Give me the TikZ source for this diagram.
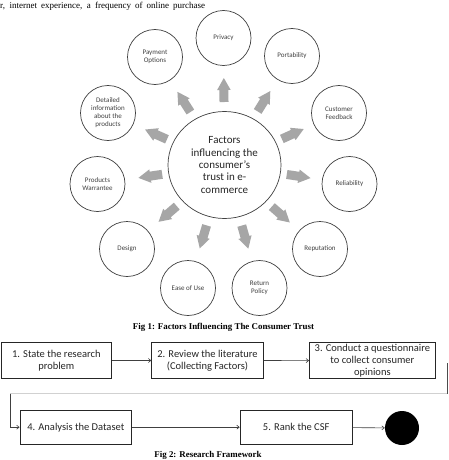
\documentclass[tikz,border=0pt]{standalone}
\usepackage{fontspec}
\setmainfont{Carlito}
\newfontfamily\timesf{Liberation Serif}
\usetikzlibrary{calc,shapes.geometric,arrows.meta}
\definecolor{arrowgray}{HTML}{A6A6A6}
\definecolor{ringline}{HTML}{404040}
\newcommand\blockarr[1]{%
  \path ($(ctr.center)!63pt!(#1.center)$) coordinate (abase)
        ($(ctr.center)!75pt!(#1.center)$) coordinate (aneck)
        ($(ctr.center)!87pt!(#1.center)$) coordinate (atip);
  \fill[arrowgray] ($(abase)!4.5pt!90:(atip)$) -- ($(aneck)!4.5pt!90:(atip)$)
     -- ($(aneck)!6.8pt!90:(atip)$) -- (atip) -- ($(aneck)!6.8pt!-90:(atip)$)
     -- ($(aneck)!4.5pt!-90:(atip)$) -- ($(abase)!4.5pt!-90:(atip)$) -- cycle;}
\begin{document}
\begin{tikzpicture}[x=1pt,y=-1pt,
  fcircle/.style={circle, draw=ringline, line width=0.7pt, minimum size=55pt,
    inner sep=0pt, align=center, font=\fontsize{7}{8}\selectfont, text=black!75},
  centre/.style={ellipse, draw=ringline, line width=0.7pt, minimum width=113pt,
    minimum height=107pt, inner sep=0pt, align=center,
    font=\fontsize{11}{12.4}\selectfont, text=black!85},
  stepbox/.style={draw=black!85, line width=0.7pt, inner sep=0pt, align=center,
    font=\fontsize{10.5}{12.4}\selectfont, text=black!85},
  flowarrow/.style={draw=black!75, line width=0.6pt,
    -{Straight Barb[length=2.5pt,width=4pt]}},
  caption/.style={font=\timesf\bfseries\fontsize{8.9}{10}\selectfont}]
\useasboundingbox (0,0) rectangle (449,460);
\fill[white] (0,0) rectangle (449,460);

% top line of body text
\node[anchor=west, inner sep=0pt, font=\timesf\fontsize{9}{10}\selectfont] (toptext) at (0,6)
  {\hbox to 205pt{r, internet experience, a frequency of online purchase}};

% centre
\node[centre] (ctr) at (224.5,165) {Factors\\influencing the\\consumer’s\\trust in e-\\commerce};

% surrounding factors
\node[fcircle] (privacy) at (223.5,38) {Privacy};
\node[fcircle] (payment) at (155,57) {Payment\\Options};
\node[fcircle] (portab) at (292,56) {Portability};
\node[fcircle] (detail) at (108,113) {Detailed\\information\\about the\\products};
\node[fcircle] (feedback) at (339,113) {Customer\\Feedback};
\node[fcircle] (warrant) at (97.5,184) {Products\\Warrantee};
\node[fcircle] (reliab) at (349.5,184) {Reliability};
\node[fcircle] (design) at (127,249) {Design};
\node[fcircle] (reput) at (320,249) {Reputation};
\node[fcircle] (ease) at (188,288) {Ease of Use};
\node[fcircle] (retpol) at (259.5,288) {Return\\Policy};

\foreach \p in {privacy,payment,portab,detail,feedback,warrant,reliab,design,reput,ease,retpol}
  {\blockarr{\p}}

\node[caption] (cap1) at (223.5,327.7) {Fig 1: Factors Influencing The Consumer Trust};

% research framework
\node[stepbox, minimum width=110.7pt, minimum height=35.6pt] (b1) at (56.3,360.5)
  {1. State the research\\problem};
\node[stepbox, minimum width=111.6pt, minimum height=35.6pt] (b2) at (207.5,360.5)
  {2. Review the literature\\(Collecting Factors)};
\node[stepbox, minimum width=126pt, minimum height=36pt] (b3) at (372.4,360.6)
  {3. Conduct a questionnaire\\to collect consumer\\opinions};
\node[stepbox, minimum width=111.7pt, minimum height=34.3pt] (b4) at (75.8,427.2)
  {4. Analysis the Dataset};
\node[stepbox, minimum width=112.3pt, minimum height=34.3pt] (b5) at (296.2,427.2)
  {5. Rank the CSF};
\node[circle, fill=black, minimum size=34pt, inner sep=0pt] (finish) at (402,428) {};

\draw[flowarrow] (b1) -- (b2);
\draw[flowarrow] (b2) -- (b3);
\coordinate (s3) at (447,363);
\coordinate (cr) at (447,393.5);
\coordinate (cl) at (10,393.5);
\draw[black!70, line width=0.6pt] (s3) -- (cr);
\draw[black!18, line width=0.6pt] (cr) -- (cl);
\draw[flowarrow] (cl) |- (b4.west);
\draw[flowarrow] (b4) -- (b5);
\draw[flowarrow] (b5) -- (finish);

\node[caption] (cap2) at (208,455.7) {Fig 2: Research Framework};
\end{tikzpicture}
\end{document}
